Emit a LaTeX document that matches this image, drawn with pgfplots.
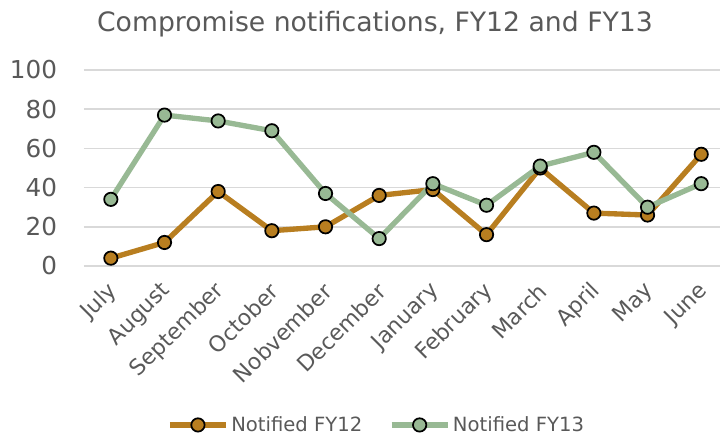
\documentclass[border=0pt]{standalone}
\usepackage{pgfplots}
\pgfplotsset{compat=1.18}
\usepackage{fontspec}
\setmainfont{DejaVu Sans}
\definecolor{cfy12}{RGB}{184,126,32}
\definecolor{cfy13}{RGB}{152,185,148}
\definecolor{gridc}{RGB}{217,217,217}
\definecolor{txt}{RGB}{89,89,89}
\begin{document}
\begin{tikzpicture}
\useasboundingbox (0,0) rectangle (541.5pt,327pt);
\begin{axis}[
  at={(63pt,127.5pt)}, anchor=south west,
  scale only axis, width=477pt, height=147pt,
  xmin=-0.5, xmax=11.35, ymin=0, ymax=100,
  ytick={0,20,40,60,80,100},
  xtick={0,...,11},
  xticklabels={July,August,September,October,Nobvember,December,January,February,March,April,May,June},
  axis line style={draw=none},
  major tick length=0pt,
  ymajorgrids, grid style={gridc, line width=1.3pt},
  /pgf/number format/assume math mode=true,
  yticklabel style={font=\fontsize{18.5}{20}\selectfont, text=txt, anchor=east, inner sep=0pt, xshift=-20pt},
  xticklabel style={yshift=-16pt, xshift=2pt, rotate=45, anchor=east, inner sep=0pt, font=\fontsize{16.5}{18}\selectfont, text=txt},
  title={Compromise notifications, FY12 and FY13},
  title style={font=\fontsize{20}{22}\selectfont, text=txt, at={(axis description cs:0.4575,1.194)}, anchor=center, yshift=0pt},
  legend columns=2,
  legend style={draw=none, fill=none, font=\fontsize{14.7}{16}\selectfont, text=txt,
    at={(axis description cs:0.4607,-0.811)}, anchor=center,
    /tikz/every even column/.append style={column sep=18pt}},
  legend image code/.code={\draw[#1, mark repeat=2, mark phase=2] plot coordinates {(0pt,0pt) (21pt,0pt) (42pt,0pt)};},
  clip=false,
]
\addplot[color=cfy12, line width=4pt, mark=*, mark size=5pt, mark options={fill=cfy12, draw=black, line width=1.3pt}] coordinates {
 (0,4) (1,12) (2,38) (3,18) (4,20) (5,36) (6,39) (7,16) (8,50) (9,27) (10,26) (11,57)};
\addlegendentry{Notified FY12}
\addplot[color=cfy13, line width=4pt, mark=*, mark size=5pt, mark options={fill=cfy13, draw=black, line width=1.3pt}] coordinates {
 (0,34) (1,77) (2,74) (3,69) (4,37) (5,14) (6,42) (7,31) (8,51) (9,58) (10,30) (11,42)};
\addlegendentry{Notified FY13}
\end{axis}
\end{tikzpicture}
\end{document}
